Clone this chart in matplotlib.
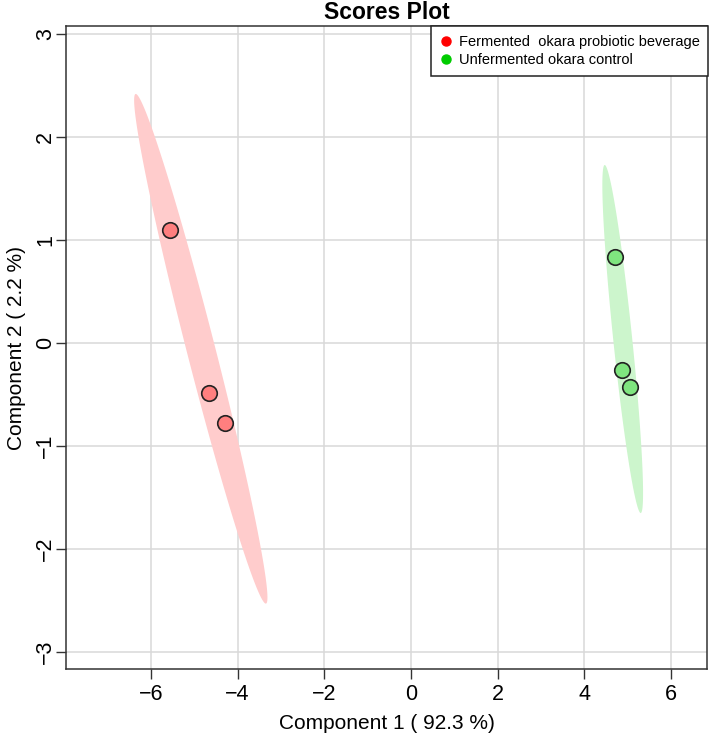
import numpy as np
import matplotlib
matplotlib.use("Agg")
import matplotlib.pyplot as plt

plt.rcParams['font.family'] = ['Liberation Sans', 'DejaVu Sans']

# ---- data ----
groups = ["Fermented  okara probiotic beverage", "Unfermented okara control"]
group_colors = ["#FF0000", "#00CC00"]
point_colors = ["#FF7F7F", "#7FE57F"]
ellipse_colors = ["#FFCCCC", "#CCF5CC"]

pc1_fermented = [-5.55, -4.65, -4.30]
pc2_fermented = [1.10, -0.48, -0.78]
pc1_unfermented = [4.70, 4.87, 5.05]
pc2_unfermented = [0.84, -0.26, -0.43]

# ellipse: major-axis tips (x1, y1, x2, y2) and horizontal half-width at centre
ellipse_fermented = [-6.35, 2.42, -3.35, -2.53, 0.34]
ellipse_unfermented = [4.47, 1.73, 5.30, -1.65, 0.22]

x_ticks = [-6, -4, -2, 0, 2, 4, 6]
y_ticks = [-3, -2, -1, 0, 1, 2, 3]
xlab = "Component 1 ( 92.3 %)"
ylab = "Component 2 ( 2.2 %)"
title = "Scores Plot"

# ---- figure ----
fig = plt.figure(figsize=(7.09, 7.40), dpi=100)
ax = fig.add_axes([66/709, 1 - 669/740, (707-66)/709, (669-26)/740])

ax.set_xlim(-7.96, 6.83)
ax.set_ylim(-3.165, 3.08)
ax.set_xticks(x_ticks)
ax.set_yticks(y_ticks)
ax.set_xticklabels([str(v).replace('-', '\u2212') for v in x_ticks])
ax.set_yticklabels([str(v).replace('-', '\u2212') for v in y_ticks],
                   rotation=90, va='center')
ax.grid(True, color='#D9D9D9', linewidth=1.1)
ax.set_axisbelow(True)
ax.tick_params(direction='out', length=7, width=1, labelsize=15.5,
               color='#333333')
ax.tick_params(axis='x', pad=4)
ax.tick_params(axis='y', pad=0)
for s in ax.spines.values():
    s.set_linewidth(1.1)
    s.set_color('#333333')

t = np.linspace(0, 2*np.pi, 300)
for ell, col in [(ellipse_fermented, ellipse_colors[0]),
                 (ellipse_unfermented, ellipse_colors[1])]:
    x1, y1, x2, y2, w = ell
    cx, cy = (x1 + x2) / 2, (y1 + y2) / 2
    ax_, ay_ = (x1 - x2) / 2, (y1 - y2) / 2
    ex = cx + np.cos(t) * ax_ + np.sin(t) * w
    ey = cy + np.cos(t) * ay_
    ax.fill(ex, ey, color=col, linewidth=0, zorder=2)

ax.scatter(pc1_fermented, pc2_fermented, s=125, c=point_colors[0],
           edgecolors='#222222', linewidths=1.2, zorder=3)
ax.scatter(pc1_unfermented, pc2_unfermented, s=125, c=point_colors[1],
           edgecolors='#222222', linewidths=1.2, zorder=3)

ax.set_xlabel(xlab, fontsize=15, labelpad=6)
ax.set_ylabel(ylab, fontsize=15, labelpad=7)
ax.set_title(title, fontsize=16.5, fontweight='bold', pad=5)

handles = [plt.Line2D([], [], marker='o', linestyle='none', color=c,
                      markersize=6.5) for c in group_colors]
leg = ax.legend(handles, groups, loc='upper right', fontsize=10.5,
                frameon=True, fancybox=False, borderaxespad=0,
                bbox_to_anchor=(1.002, 1.0),
                handletextpad=0.5, handlelength=0.8, borderpad=0.6,
                labelspacing=0.3)
leg.get_frame().set_edgecolor('#222222')
leg.get_frame().set_linewidth(1.1)
leg.get_frame().set_alpha(1)

fig.savefig("out.png", dpi=100)
